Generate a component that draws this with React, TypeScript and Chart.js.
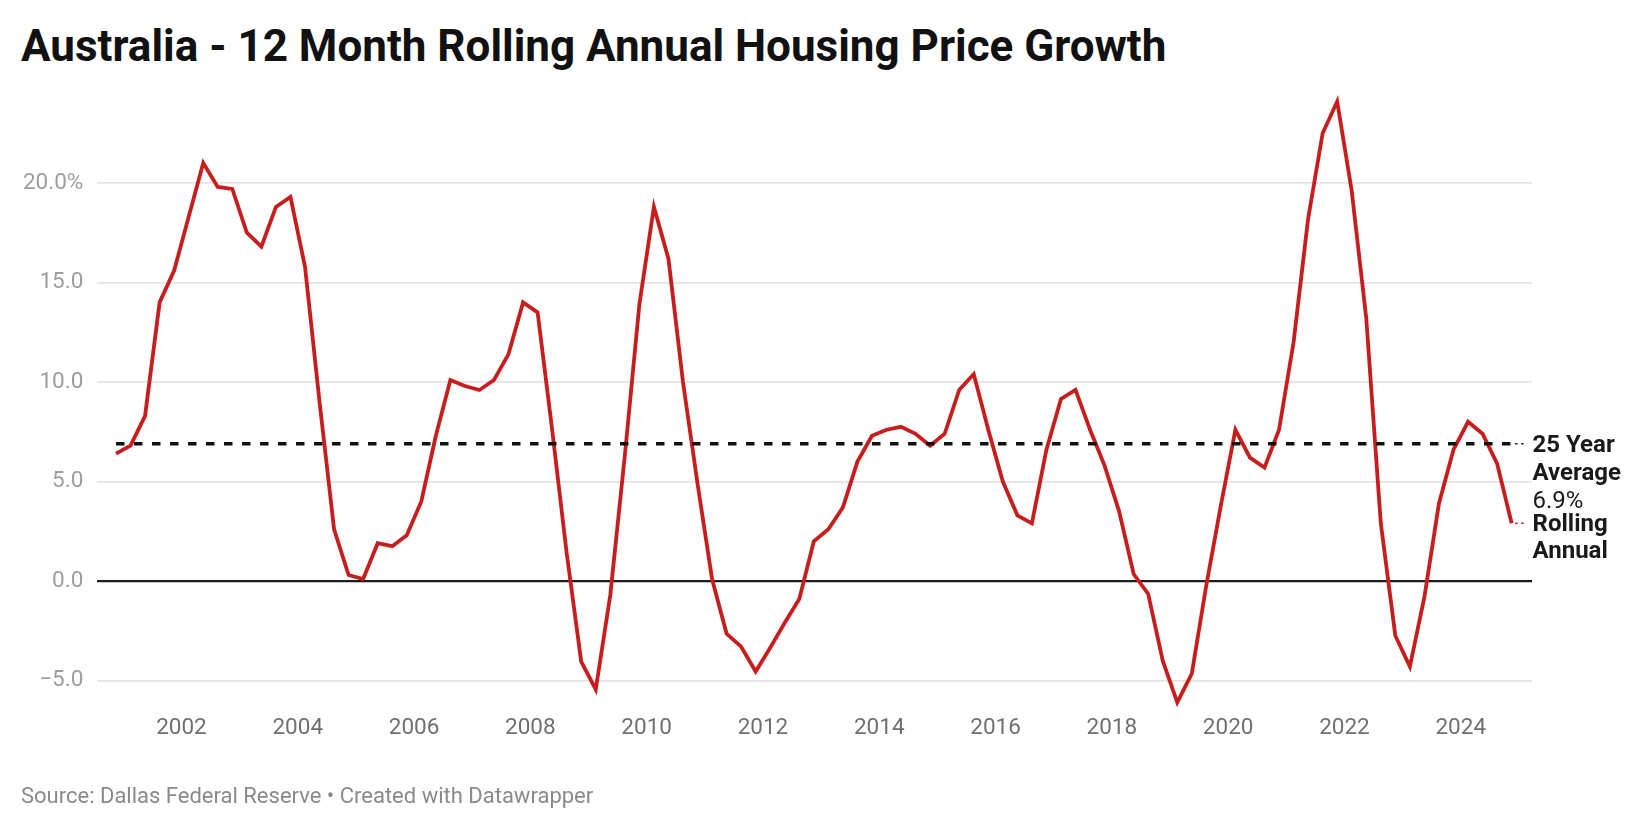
import React, { useEffect, useRef } from 'react';
import { Chart, registerables } from 'chart.js';

Chart.register(...registerables);

// ---- Data ----
const TITLE = 'Australia - 12 Month Rolling Annual Housing Price Growth';
const SOURCE = 'Source: Dallas Federal Reserve • Created with Datawrapper';

// Quarterly series starting in Q4 2000 (plotted at mid-quarter)
const START_YEAR = 2000;
const START_QUARTER = 4;
const GROWTH = [
  6.4, 6.8, 8.3, 14.0, 15.6, 18.3, 21.0, 19.8, 19.7, 17.5,
  16.8, 18.8, 19.3, 15.8, 9.0, 2.6, 0.3, 0.1, 1.9, 1.75,
  2.3, 4.0, 7.3, 10.1, 9.8, 9.6, 10.1, 11.4, 14.0, 13.5,
  7.6, 1.4, -4.05, -5.45, -0.7, 6.3, 13.9, 18.8, 16.2, 10.0,
  4.9, 0.1, -2.65, -3.3, -4.55, -3.35, -2.1, -0.9, 2.0, 2.6,
  3.7, 6.0, 7.3, 7.6, 7.75, 7.4, 6.8, 7.4, 9.6, 10.4,
  7.6, 5.0, 3.3, 2.9, 6.6, 9.15, 9.6, 7.6, 5.8, 3.5,
  0.35, -0.65, -4.0, -6.1, -4.65, -0.2, 3.8, 7.6, 6.2, 5.7,
  7.6, 12.0, 18.2, 22.5, 24.1, 19.6, 13.2, 2.9, -2.75, -4.3,
  -0.8, 3.9, 6.6, 8.0, 7.4, 5.9, 2.9,
];
const AVERAGE = 6.9;
const AVERAGE_LABEL = ['25 Year', 'Average'];
const SERIES_LABEL = ['Rolling', 'Annual'];
const YEAR_TICKS = [2002, 2004, 2006, 2008, 2010, 2012, 2014, 2016, 2018, 2020, 2022, 2024];
const VALUE_TICKS = [-5, 0, 5, 10, 15, 20];

// ---- Layout / style ----
const W = 1640;
const H = 828;
const X_MIN = 2000.543;
const X_MAX = 2025.225;
const Y_MIN = -6.1;
const Y_MAX = 24.1;
const PLOT_LEFT = 96.7;
const PLOT_RIGHT = 1532;
const PLOT_TOP = 101.4;
const PLOT_BOTTOM = 702.4;
const RED = '#c71e1d';
const FONT = 'Roboto, "Noto Sans", sans-serif';

const quarterToYear = (i: number) => START_YEAR + (START_QUARTER - 1) / 4 + 1 / 8 + i / 4;

export default function App() {
  const ref = useRef<HTMLCanvasElement>(null);

  useEffect(() => {
    const canvas = ref.current;
    if (!canvas) return;
    const points = GROWTH.map((v, i) => ({ x: quarterToYear(i), y: v }));
    const firstX = points[0].x;
    const lastX = points[points.length - 1].x;

    const endLabels = {
      id: 'endLabels',
      afterDatasetsDraw(chart: any) {
        const { ctx, chartArea, scales } = chart;
        const xs = scales.x;
        const ys = scales.y;
        const endPx = xs.getPixelForValue(lastX);
        const labelX = chartArea.right + 0.5;
        const yAvg = ys.getPixelForValue(AVERAGE);
        const yLast = ys.getPixelForValue(GROWTH[GROWTH.length - 1]);
        ctx.save();
        ctx.lineWidth = 1.5;
        ctx.setLineDash([2.5, 3.5]);
        ctx.strokeStyle = '#222';
        ctx.beginPath();
        ctx.moveTo(endPx + 3.5, yAvg);
        ctx.lineTo(labelX - 7, yAvg);
        ctx.stroke();
        ctx.strokeStyle = RED;
        ctx.beginPath();
        ctx.moveTo(endPx + 3.5, yLast);
        ctx.lineTo(labelX - 7, yLast);
        ctx.stroke();
        ctx.setLineDash([]);
        ctx.textAlign = 'left';
        ctx.textBaseline = 'middle';
        ctx.fillStyle = '#1a1a1a';
        const lh = 28.2;
        const dy = 2;
        ctx.font = `bold 24px ${FONT}`;
        AVERAGE_LABEL.forEach((t, k) => ctx.fillText(t, labelX, yAvg + dy + k * lh));
        ctx.font = `24px ${FONT}`;
        ctx.fillText(`${AVERAGE.toFixed(1)}%`, labelX, yAvg + dy + AVERAGE_LABEL.length * lh);
        ctx.font = `bold 24px ${FONT}`;
        SERIES_LABEL.forEach((t, k) => ctx.fillText(t, labelX, yLast + dy + k * 27.2));
        ctx.restore();
      },
    };

    const chart = new Chart(canvas, {
      type: 'line',
      data: {
        datasets: [
          {
            label: '25 Year Average',
            data: [
              { x: firstX, y: AVERAGE },
              { x: lastX, y: AVERAGE },
            ],
            borderColor: '#111',
            borderWidth: 3.5,
            borderDash: [8.5, 9.5],
            pointRadius: 0,
            clip: false as any,
          },
          {
            label: 'Rolling Annual',
            data: points,
            borderColor: RED,
            borderWidth: 3.8,
            pointRadius: 0,
            tension: 0,
            clip: false as any,
          },
        ],
      },
      options: {
        responsive: false,
        animation: false,
        events: [],
        layout: { padding: { top: PLOT_TOP, right: W - PLOT_RIGHT, bottom: 0, left: 0 } },
        plugins: {
          legend: { display: false },
          tooltip: { enabled: false },
          title: { display: false },
        },
        scales: {
          x: {
            type: 'linear',
            min: X_MIN,
            max: X_MAX,
            grid: { display: false },
            border: { display: false },
            afterBuildTicks: (s: any) => {
              s.ticks = YEAR_TICKS.map((v) => ({ value: v }));
            },
            afterFit: (s: any) => {
              s.height = H - PLOT_BOTTOM;
            },
            ticks: {
              padding: 4.7,
              color: '#707070',
              font: { family: FONT, size: 22.5 },
              maxRotation: 0,
              autoSkip: false,
              callback: (v: any) => String(v),
            },
          },
          y: {
            type: 'linear',
            min: Y_MIN,
            max: Y_MAX,
            grid: {
              drawTicks: false,
              color: (c: any) => (c.tick && c.tick.value === 0 ? '#1c1c1c' : '#e4e4e4'),
              lineWidth: (c: any) => (c.tick && c.tick.value === 0 ? 2.2 : 1.7),
            },
            border: { display: false },
            afterBuildTicks: (s: any) => {
              s.ticks = VALUE_TICKS.map((v) => ({ value: v }));
            },
            afterFit: (s: any) => {
              s.width = PLOT_LEFT;
            },
            ticks: {
              padding: 13.4,
              color: '#9e9e9e',
              font: { family: FONT, size: 22.5 },
              callback: (v: any) => {
                const n = Number(v);
                if (n === 20) return '20.0%';
                return n < 0 ? '\u2212' + Math.abs(n).toFixed(1) : n.toFixed(1);
              },
            },
          },
        },
      },
      plugins: [endLabels],
    });

    return () => chart.destroy();
  }, []);

  return (
    <div style={{ position: 'absolute', left: 0, top: 0, width: W, height: H, background: '#fff', overflow: 'hidden' }}>
      <div
        style={{
          position: 'absolute',
          left: 21,
          top: 24,
          font: `bold 44px ${FONT}`,
          lineHeight: '44px',
          color: '#111',
          whiteSpace: 'nowrap',
        }}
      >
        {TITLE}
      </div>
      <canvas ref={ref} width={W} height={H} style={{ position: 'absolute', left: 0, top: 0, width: W, height: H }} />
      <div
        style={{
          position: 'absolute',
          left: 21,
          top: 784.5,
          font: `22px ${FONT}`,
          lineHeight: '22px',
          color: '#8a8a8a',
          whiteSpace: 'nowrap',
        }}
      >
        {SOURCE}
      </div>
    </div>
  );
}
